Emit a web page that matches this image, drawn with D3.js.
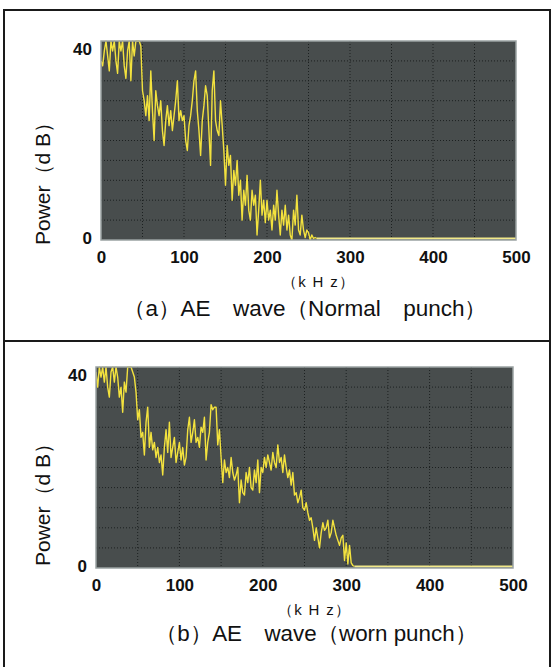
<!DOCTYPE html>
<html>
<head>
<meta charset="utf-8">
<script src="https://cdn.jsdelivr.net/npm/d3@7"></script>
<style>
  body { margin: 0; background: #fff; }
  svg { display: block; font-family: "Liberation Sans", Arial, sans-serif; }
</style>
</head>
<body>
<svg width="551" height="667"></svg>
<script>
// AE wave spectra, normal vs worn punch

// sample spacing of the spectra (kHz)
const freqStep = 2;

// power (dB) every 2 kHz, starting at 0 kHz — normal punch
const powerNormal = [
  36, 35, 38, 40, 37, 34, 40, 38, 40, 36, 33.5, 40, 38, 40, 35, 32.5, 38, 40, 32, 40,
  37, 40, 40, 40, 39, 30, 28, 25, 29, 24, 34, 26, 20, 30, 27, 25, 28, 22, 19, 24,
  27, 23, 26, 22, 25, 28, 32, 24, 26, 24, 25, 20, 18, 23, 25, 28, 32, 34, 26, 22,
  17, 24, 27, 31, 29, 22, 15, 30, 34, 24, 22, 21, 28, 23, 18, 11, 19, 15, 17, 8,
  14, 11, 16, 9, 12, 4, 10, 7, 13, 6, 4, 10, 7, 9, 1, 6, 12, 5, 8, 3.5,
  8, 4, 6, 2, 7, 4, 10, 5, 1, 6, 3, 7, 2, 5, 1, 0, 6, 3, 9, 2,
  1, 5, 2, 0.5, 2, 1.5, 0, 1, 0.3, 0.5, 0.3
];

// power (dB) every 2 kHz, starting at 0 kHz — worn punch
const powerWorn = [
  39, 36, 40, 38, 40, 37, 40, 36, 34, 39, 40, 37, 40, 38, 34, 36, 31, 37, 35, 40,
  40, 40, 39, 38, 35, 29.5, 31.5, 26, 27, 22.5, 29, 32, 24, 27, 23.5, 25, 22, 24, 21, 22.5,
  18.5, 24, 27.5, 23, 29, 22, 24, 26, 21, 23, 25, 21.5, 24, 20.5, 22, 27.5, 30, 25, 27, 29.5,
  25, 26, 24, 28, 27, 30, 21.5, 25, 27, 32.5, 31.5, 32, 32, 24.5, 27.5, 22, 17, 21.5, 19, 20,
  18, 22, 19, 17.5, 18.5, 20, 13, 17.5, 15, 14.5, 19, 17, 20, 16, 15.5, 19.5, 17, 21.5, 15, 20,
  19, 22, 20, 22.5, 21, 19.5, 23, 21, 20, 24.5, 21, 22, 19, 22.5, 20, 18, 19.5, 16.5, 19, 14.5,
  15, 13, 14, 15.5, 12, 11.5, 13, 11, 9.5, 10, 8, 5.5, 8, 6, 4, 7, 9, 7.5, 8, 9.5,
  6, 7, 9.5, 8, 6.5, 5.5, 4.5, 6, 6.5, 1.5, 5, 0.8, 4.5, 1, 0.5, 0.3
];

const xTicks = [0, 100, 200, 300, 400, 500];
const yTicks = [0, 40];
const xGrid = [50, 100, 150, 200, 250, 300, 350, 400, 450];
const yGrid = [4, 8, 12, 16, 20, 24, 28, 32, 36];
const yLabel = "Power（d B）";
const unitLabel = "（k H z）";
const captions = ["（a）AE　wave（Normal　punch）", "（b）AE　wave（worn punch）"];

const svg = d3.select("svg");
const tickFont = "'Liberation Sans', Arial, sans-serif";

// frames around the two figures
svg.append("rect").attr("x", 4).attr("y", 10).attr("width", 546).attr("height", 331)
  .attr("fill", "none").attr("stroke", "#1a1a1a").attr("stroke-width", 2);
svg.append("rect").attr("x", 4).attr("y", 341).attr("width", 546).attr("height", 340)
  .attr("fill", "none").attr("stroke", "#1a1a1a").attr("stroke-width", 2);

const panels = [
  { values: powerNormal, left: 101, right: 516, top: 41, bottom: 240,
    labelY: 245, unitX: 318, unitY: 287, unitW: 72,
    capX: 305, capY: 316, capW: 364, caption: captions[0] },
  { values: powerWorn, left: 96, right: 513, top: 367, bottom: 568,
    labelY: 566, unitX: 314, unitY: 615, unitW: 72,
    capX: 316, capY: 641, capW: 322, caption: captions[1] }
];

panels.forEach((p, k) => {
  const x = d3.scaleLinear().domain([0, 500]).range([p.left, p.right]);
  const y = d3.scaleLinear().domain([0, 40]).range([p.bottom, p.top]);

  const g = svg.append("g");

  g.append("rect")
    .attr("x", p.left).attr("y", p.top)
    .attr("width", p.right - p.left).attr("height", p.bottom - p.top)
    .attr("fill", "#484d4d");

  // dotted grid
  g.selectAll(".vgrid").data(xGrid).enter().append("line")
    .attr("x1", d => x(d)).attr("x2", d => x(d))
    .attr("y1", p.top).attr("y2", p.bottom)
    .attr("stroke", "#1c2020").attr("stroke-width", 1).attr("stroke-dasharray", "1,2");
  g.selectAll(".hgrid").data(yGrid).enter().append("line")
    .attr("x1", p.left).attr("x2", p.right)
    .attr("y1", d => y(d)).attr("y2", d => y(d))
    .attr("stroke", "#1c2020").attr("stroke-width", 1).attr("stroke-dasharray", "1,2");

  const clipId = "clip" + k;
  svg.append("clipPath").attr("id", clipId).append("rect")
    .attr("x", p.left).attr("y", p.top - 1)
    .attr("width", p.right - p.left).attr("height", p.bottom - p.top + 1);

  const pts = p.values.map((v, i) => [i * freqStep, v]);
  const last = pts[pts.length - 1];

  const line = d3.line().x(d => x(d[0])).y(d => y(d[1]));

  g.append("path")
    .datum(pts)
    .attr("clip-path", `url(#${clipId})`)
    .attr("fill", "none")
    .attr("stroke", "#f3e23e")
    .attr("stroke-width", 1.4)
    .attr("stroke-linejoin", "round")
    .attr("d", line);

  // flat floor after the cut-off
  g.append("path")
    .datum([last, [500, last[1]]])
    .attr("fill", "none")
    .attr("stroke", "#f2e98a")
    .attr("stroke-width", 2)
    .attr("d", line);

  // plot border
  g.append("rect")
    .attr("x", p.left).attr("y", p.top)
    .attr("width", p.right - p.left).attr("height", p.bottom - p.top)
    .attr("fill", "none").attr("stroke", "#9aa2a2").attr("stroke-width", 1.5);

  // axes
  const ax = g.append("g")
    .attr("transform", `translate(0,${p.bottom + 11})`)
    .call(d3.axisBottom(x).tickValues(xTicks).tickSize(0).tickPadding(0));
  ax.select(".domain").remove();
  ax.selectAll("text")
    .attr("fill", "#111").style("font-size", "17px").style("font-weight", "bold")
    .style("font-family", tickFont);

  const ay = g.append("g")
    .attr("transform", `translate(${p.left - 9},0)`)
    .call(d3.axisLeft(y).tickValues(yTicks).tickSize(0).tickPadding(0));
  ay.select(".domain").remove();
  ay.selectAll("text")
    .attr("fill", "#111").style("font-size", "17px").style("font-weight", "bold")
    .style("font-family", tickFont);
  ay.selectAll(".tick").filter(d => d === 40).select("text").attr("dy", "0.8em");
  ay.selectAll(".tick").filter(d => d === 0).select("text").attr("dy", "0.2em");

  g.append("text")
    .attr("transform", `translate(50,${p.labelY}) rotate(-90)`)
    .attr("text-anchor", "start")
    .style("font-size", "21px")
    .attr("fill", "#111")
    .text(yLabel);

  g.append("text")
    .attr("x", p.unitX).attr("y", p.unitY)
    .attr("text-anchor", "middle")
    .attr("textLength", p.unitW)
    .attr("lengthAdjust", "spacing")
    .style("font-size", "15px")
    .attr("fill", "#111")
    .text(unitLabel);

  g.append("text")
    .attr("x", p.capX).attr("y", p.capY)
    .attr("text-anchor", "middle")
    .attr("textLength", p.capW)
    .attr("lengthAdjust", "spacingAndGlyphs")
    .style("font-size", "22px")
    .attr("fill", "#111")
    .text(p.caption);
});
</script>
</body>
</html>
